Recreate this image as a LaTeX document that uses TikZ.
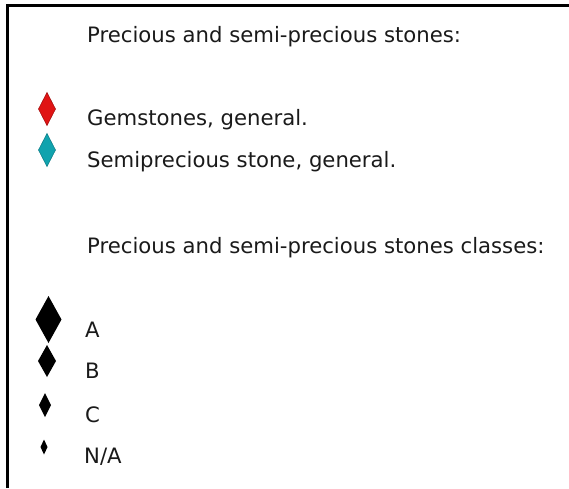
\documentclass[tikz,border=0pt]{standalone}
\usepackage{fontspec}
\setmainfont{DejaVu Sans}
\usetikzlibrary{shapes.geometric}
\definecolor{GemRed}{HTML}{E01414}
\definecolor{GemRedEdge}{HTML}{A00A0A}
\definecolor{SemiCyan}{HTML}{10A3AE}
\definecolor{SemiCyanEdge}{HTML}{0A7A84}
\definecolor{LegendText}{HTML}{1A1A1A}

\tikzset{
  stone/.style={diamond,inner sep=0pt,outer sep=0pt,line width=0.5pt},
  legendtext/.style={anchor=base west,inner sep=0pt,text=LegendText,
    font=\fontsize{21.2}{24}\selectfont},
}

\begin{document}
\begin{tikzpicture}[x=1pt,y=-1pt]
      \useasboundingbox (0,0) rectangle (569,488);
      \fill[white] (0,0) rectangle (569,488);
      \draw[line width=2.2pt] (7.5,488) -- (7.5,5.5) -- (569,5.5);
      \node[legendtext] (head) at (87,42) {Precious and semi-precious stones:};
      \node[stone,fill=GemRed,draw=GemRedEdge,minimum width=17pt,minimum height=33pt] (gem) at (47,109) {};
      \node[legendtext] (gemtext) at (87,125) {Gemstones, general.};
      \node[stone,fill=SemiCyan,draw=SemiCyanEdge,minimum width=17pt,minimum height=33pt] (semi) at (47,150) {};
      \node[legendtext] (semitext) at (87,167) {Semiprecious stone, general.};
      \node[legendtext] (classhead) at (87,253) {Precious and semi-precious stones classes:};
      \node[stone,fill=black,minimum width=26pt,minimum height=47pt] (clA) at (48.5,319.5) {};
      \node[legendtext] (clAtext) at (85,337) {A};
      \node[stone,fill=black,minimum width=18pt,minimum height=32pt] (clB) at (47,361) {};
      \node[legendtext] (clBtext) at (85,378) {B};
      \node[stone,fill=black,minimum width=12pt,minimum height=24pt] (clC) at (45,405) {};
      \node[legendtext] (clCtext) at (85,422) {C};
      \node[stone,fill=black,minimum width=7pt,minimum height=15pt] (clNA) at (44,447) {};
      \node[legendtext] (clNAtext) at (84,463) {N/A};
    \end{tikzpicture}
\end{document}
